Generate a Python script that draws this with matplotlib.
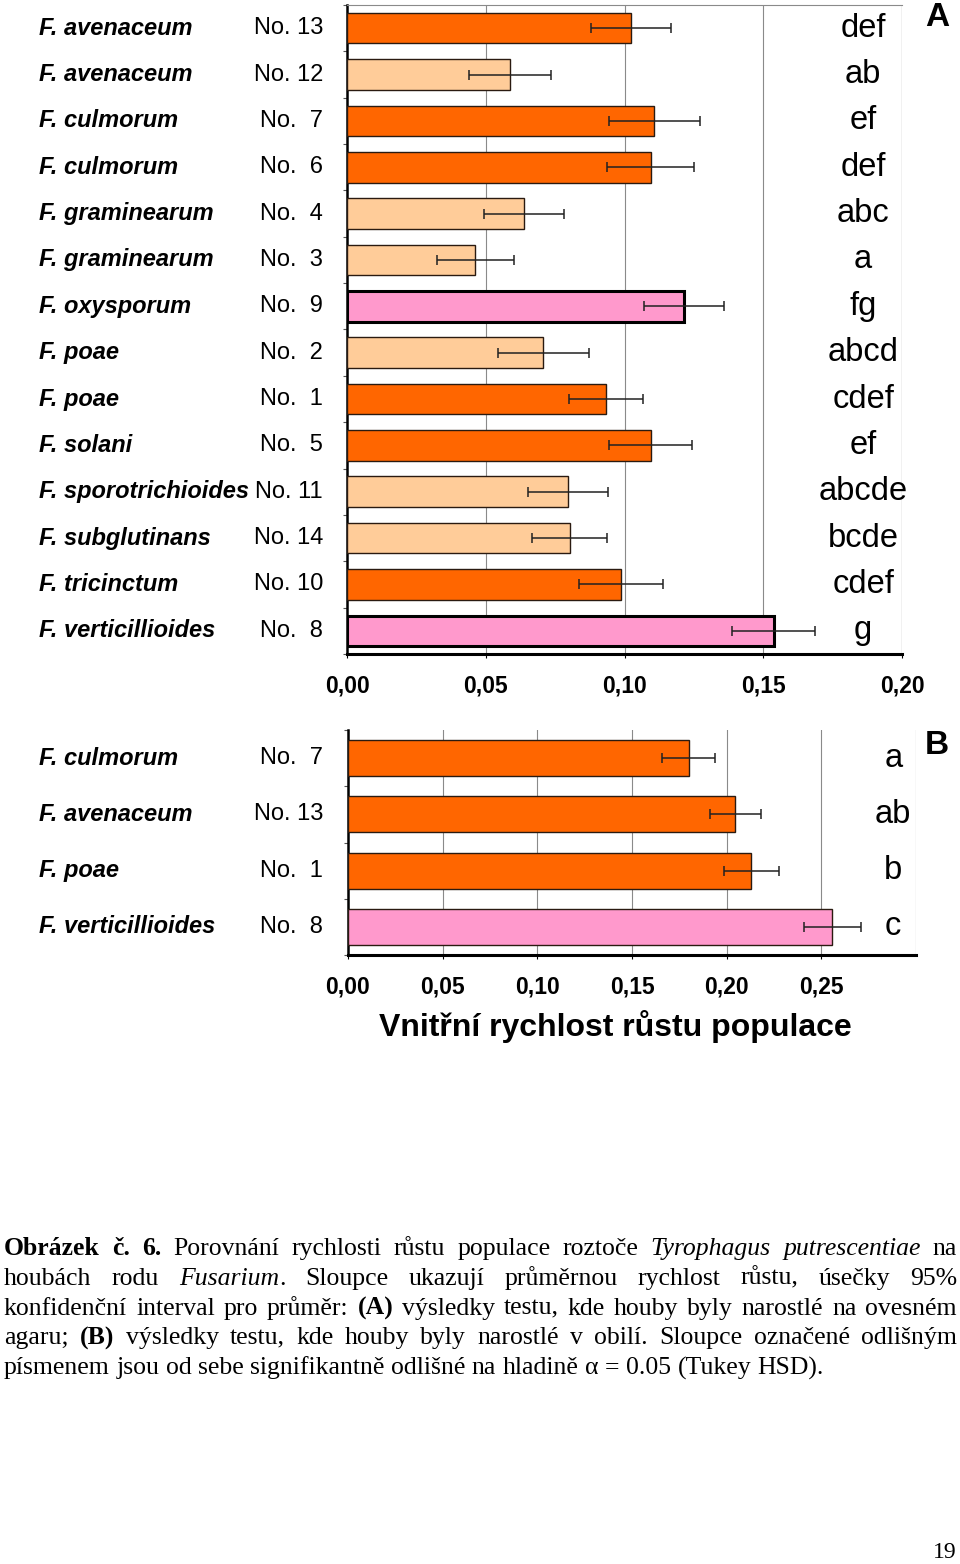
import re
import numpy as np
import matplotlib
matplotlib.use("Agg")
import matplotlib.pyplot as plt
import matplotlib.transforms as mtrans

# ── Data: panel A (oat agar) ──────────────────────────────────
species_a = ["F. avenaceum", "F. avenaceum", "F. culmorum", "F. culmorum",
             "F. graminearum", "F. graminearum", "F. oxysporum", "F. poae",
             "F. poae", "F. solani", "F. sporotrichioides", "F. subglutinans",
             "F. tricinctum", "F. verticillioides"]
strain_a = ["No. 13", "No. 12", "No.  7", "No.  6", "No.  4", "No.  3",
            "No.  9", "No.  2", "No.  1", "No.  5", "No. 11", "No. 14",
            "No. 10", "No.  8"]
rate_a = [0.1024, 0.0587, 0.1108, 0.1094, 0.0637, 0.0462, 0.1214,
          0.0708, 0.0933, 0.1094, 0.0795, 0.0803, 0.0987, 0.1537]
ci_a = [0.0143, 0.0148, 0.0163, 0.0156, 0.0144, 0.0138, 0.0143,
        0.0163, 0.0132, 0.0149, 0.0144, 0.0135, 0.0150, 0.0149]
letters_a = ["def", "ab", "ef", "def", "abc", "a", "fg",
             "abcd", "cdef", "ef", "abcde", "bcde", "cdef", "g"]
group_a = ["o", "p", "o", "o", "p", "p", "k", "p", "o", "o", "p", "p", "o", "k"]

# ── Data: panel B (grain) ─────────────────────────────────────
species_b = ["F. culmorum", "F. avenaceum", "F. poae", "F. verticillioides"]
strain_b = ["No.  7", "No. 13", "No.  1", "No.  8"]
rate_b = [0.1799, 0.2046, 0.2130, 0.2558]
ci_b = [0.0140, 0.0134, 0.0146, 0.0151]
letters_b = ["a", "ab", "b", "c"]
group_b = ["o", "o", "o", "k"]

ticks_a = [0.00, 0.05, 0.10, 0.15, 0.20]
ticks_b = [0.00, 0.05, 0.10, 0.15, 0.20, 0.25]

caption = [
    "**Obrázek** **č.** **6.** Porovnání rychlosti růstu populace roztoče *Tyrophagus* *putrescentiae* na",
    "houbách rodu *Fusarium*. Sloupce ukazují průměrnou rychlost růstu, úsečky 95%",
    "konfidenční interval pro průměr: **(A)** výsledky testu, kde houby byly narostlé na ovesném",
    "agaru; **(B)** výsledky testu, kde houby byly narostlé v obilí. Sloupce označené odlišným",
    "písmenem jsou od sebe signifikantně odlišné na hladině α = 0.05 (Tukey HSD).",
]

COLORS = {"o": "#ff6600", "p": "#ffcc99", "k": "#ff99cc"}
EDGE = "#2a1a10"
W, H = 960, 1564
SANS = ["Liberation Sans", "DejaVu Sans"]
SERIF = ["Liberation Serif", "DejaVu Serif"]

plt.rcParams["font.family"] = SANS

fig = plt.figure(figsize=(W / 100, H / 100), dpi=100)


def box(x0, y0, x1, y1):
    return [x0 / W, 1 - y1 / H, (x1 - x0) / W, (y1 - y0) / H]


def panel(rect, species, strains, rates, cis, letters, groups, ticks,
          xmax, letter_x, bar_h, thick_pink, top_border):
    ax = fig.add_axes(rect)
    y = np.arange(len(rates))
    cols = [COLORS[g] for g in groups]
    lws = [2.2 if (g == "k" and thick_pink) else 1.0 for g in groups]
    bars = ax.barh(y, rates, height=bar_h, color=cols, edgecolor=EDGE,
                   linewidth=lws, zorder=3)
    if thick_pink:
        for bar, g in zip(bars, groups):
            if g == "k":
                bar.set_edgecolor("black")
    ax.errorbar(rates, y, xerr=cis, fmt="none", ecolor="#222222",
                elinewidth=1.1, capsize=3.6, capthick=1.1, zorder=4)
    ax.set_xlim(0, xmax)
    ax.set_ylim(len(rates) - 0.5, -0.5)

    ax.set_xticks(ticks)
    ax.set_xticklabels([f"{t:.2f}".replace(".", ",") for t in ticks],
                       fontsize=16.5, fontweight="bold")
    ax.set_yticks(np.arange(len(rates) + 1) - 0.5)
    ax.set_yticklabels([])
    ax.tick_params(axis="x", length=3, width=0.8, pad=12)
    ax.tick_params(axis="y", length=3, width=0.8, color="#555555")

    for t in ticks[1:] + [xmax]:
        ax.axvline(t, color="#8a8a8a", linewidth=0.8, zorder=1)

    ax.spines["left"].set_linewidth(1.8)
    ax.spines["bottom"].set_linewidth(2.2)
    ax.spines["right"].set_visible(False)
    if top_border:
        ax.spines["top"].set_color("#8a8a8a")
        ax.spines["top"].set_linewidth(0.8)
    else:
        ax.spines["top"].set_visible(False)

    # significance letters
    for yi, lt in zip(y, letters):
        ax.text(letter_x, yi, lt, ha="center", va="center", fontsize=23.5, zorder=5)

    # category labels
    tr = mtrans.blended_transform_factory(fig.transFigure, ax.transData)
    for yi, sp, st in zip(y, species, strains):
        ax.text(39 / W, yi, sp, transform=tr, ha="left", va="center",
                fontsize=17, fontweight="bold", fontstyle="italic")
        ax.text(323 / W, yi, st, transform=tr, ha="right", va="center",
                fontsize=17)
    return ax


panel(box(347, 5, 902, 654), species_a, strain_a, rate_a, ci_a, letters_a,
      group_a, ticks_a, 0.20, 0.186, 0.66, True, True)
panel(box(348, 730, 916, 955), species_b, strain_b, rate_b, ci_b, letters_b,
      group_b, ticks_b, 0.30, 0.288, 0.64, False, False)

fig.text(937 / W, 1 - 17 / H, "A", ha="center", va="center",
         fontsize=24, fontweight="bold")
fig.text(937 / W, 1 - 745 / H, "B", ha="center", va="center",
         fontsize=24, fontweight="bold")
fig.text(615 / W, 1 - 1027 / H, "Vnitřní rychlost růstu populace",
         ha="center", va="center", fontsize=23, fontweight="bold")


# ── Caption: justified serif text with bold/italic runs ───────
def parse_word(word):
    segs = []
    for b, i, r in re.findall(r"\*\*(.+?)\*\*|\*(.+?)\*|([^*]+)", word):
        if b:
            segs.append((b, "bold", "normal"))
        elif i:
            segs.append((i, "normal", "italic"))
        else:
            segs.append((r, "normal", "normal"))
    return segs


def draw_caption(lines, x0, x1, y_first, dy, size):
    renderer = fig.canvas.get_renderer()

    def width(txt, wt, st):
        t = fig.text(0, 0, txt, fontsize=size, family=SERIF,
                     fontweight=wt, fontstyle=st)
        w = t.get_window_extent(renderer).width
        t.remove()
        return w

    space = width("a a", "normal", "normal") - width("aa", "normal", "normal")
    for k, line in enumerate(lines):
        words = [parse_word(w) for w in line.split(" ")]
        seg_w = [[width(*s) for s in wd] for wd in words]
        total = sum(sum(ws) for ws in seg_w)
        last = k == len(lines) - 1
        gap = space if last else (x1 - x0 - total) / (len(words) - 1)
        x = x0
        yb = 1 - (y_first + k * dy) / H
        for wd, ws in zip(words, seg_w):
            for (txt, wt, st), w in zip(wd, ws):
                fig.text(x / W, yb, txt, fontsize=size, family=SERIF,
                         fontweight=wt, fontstyle=st, ha="left", va="baseline")
                x += w
            x += gap


draw_caption(caption, 4, 957, 1255, 29.8, 18.5)

fig.text(945 / W, 1 - 1553 / H, "19", ha="center", va="center",
         fontsize=17, family=SERIF)

fig.savefig("out.png", dpi=100, facecolor="white")
